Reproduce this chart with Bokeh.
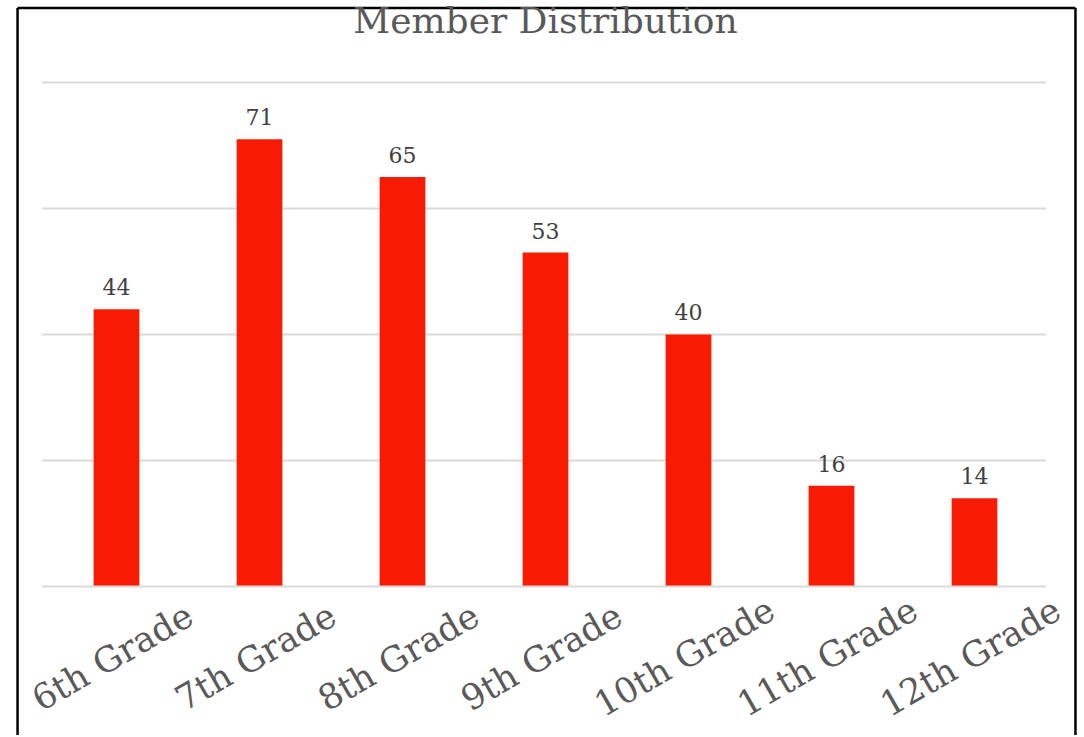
import math
from bokeh.plotting import figure
from bokeh.models import ColumnDataSource, Range1d
from bokeh.core.properties import value
from bokeh.embed import file_html
from bokeh.resources import INLINE

# ---- data ----
categories = ["6th Grade", "7th Grade", "8th Grade", "9th Grade",
              "10th Grade", "11th Grade", "12th Grade"]
members = [44, 71, 65, 53, 40, 16, 14]
grid_values = [0, 20, 40, 60, 80]
title_text = "Member Distribution"

# ---- layout ----
W, H = 1082, 735
FONT = "DejaVu Serif"
x_pos = list(range(len(categories)))

src = ColumnDataSource(dict(
    x=x_pos,
    top=members,
    cat=categories,
    lab=[str(v) for v in members],
))

p = figure(width=W, height=H, output_backend="svg", toolbar_location=None,
           x_range=Range1d(-0.8112, 6.7552), y_range=Range1d(-23.651, 93.016),
           x_axis_location=None, y_axis_location=None,
           min_border=0, min_border_left=0, min_border_right=0,
           min_border_top=0, min_border_bottom=0)
p.grid.visible = False
p.outline_line_color = None
p.background_fill_color = "white"
p.border_fill_color = "white"

# gridlines (above zero)
gy = grid_values[1:]
p.segment(x0=[-0.52] * len(gy), x1=[6.5] * len(gy), y0=gy, y1=gy,
          line_color="#d9d9d9", line_width=2)

# bars
p.vbar(x="x", top="top", bottom=0, width=0.32, source=src,
       fill_color="#F81B03", line_color=None)

# baseline axis line
p.segment(x0=[-0.52], x1=[6.5], y0=[grid_values[0]], y1=[grid_values[0]],
          line_color="#d9d9d9", line_width=2)

# value labels
p.text(x="x", y="top", text="lab", source=src, text_align="center",
       text_baseline="alphabetic", y_offset=-22,
       text_font=value(FONT), text_font_size="22px", text_color="#404040")

# category labels (rotated)
p.text(x="x", y=-11.2, text="cat", source=src, angle=math.radians(30),
       text_align="center", text_baseline="middle", x_offset=-4,
       text_font=value(FONT), text_font_size="35px", text_color="#595959")

# chart border (left, right, top)
xl, xr = -0.692, 6.706
yt = 91.83
p.segment(x0=[xl, xr, xl], x1=[xl, xr, xr], y0=[-30, -30, yt], y1=[yt, yt, yt],
          line_color="black", line_width=2.5)

# title
p.text(x=[3], y=[89.9], text=[title_text], text_align="center",
       text_baseline="alphabetic",
       text_font=value(FONT), text_font_size="36px", text_color="#595959")

open("out.html", "w").write(file_html(p, INLINE))
